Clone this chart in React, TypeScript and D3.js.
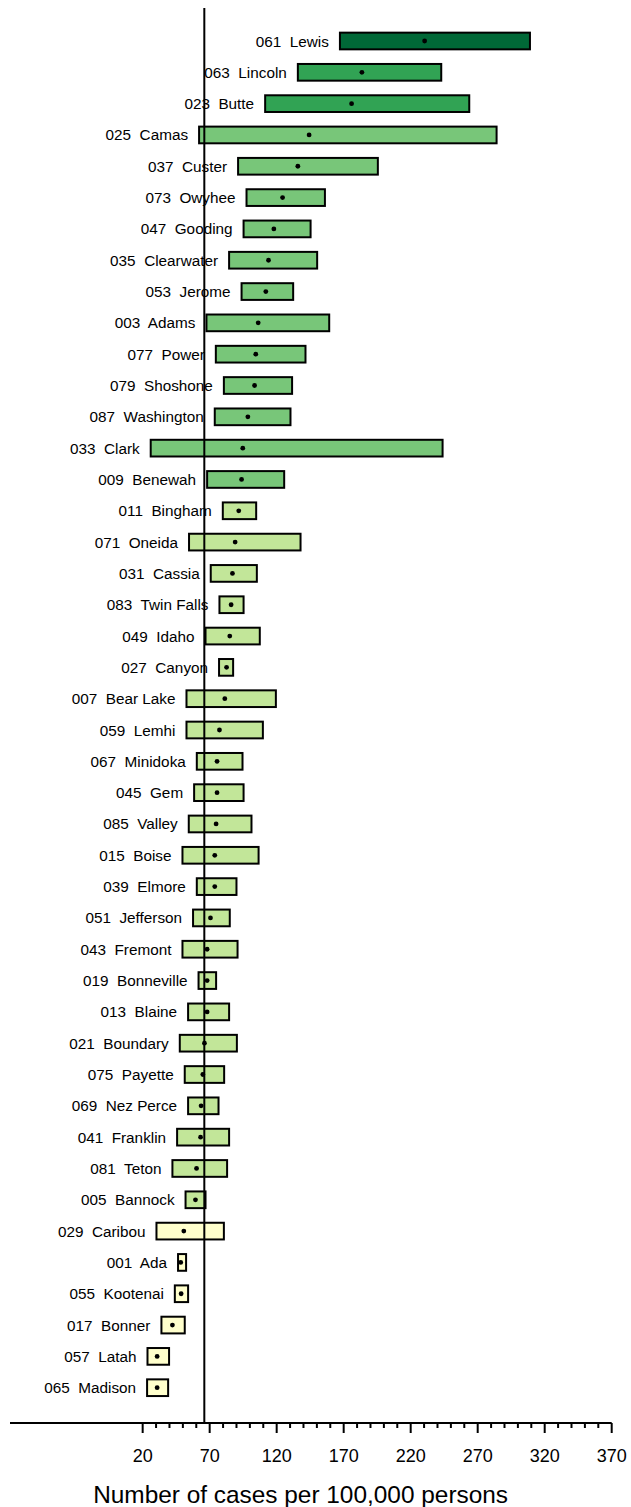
import React from "react";
import * as d3 from "d3";

const codes = ["061","063","023","025","037","073","047","035","053","003","077","079","087","033","009","011","071","031","083","049","027","007","059","067","045","085","015","039","051","043","019","013","021","075","069","041","081","005","029","001","055","017","057","065"];
const names = ["Lewis","Lincoln","Butte","Camas","Custer","Owyhee","Gooding","Clearwater","Jerome","Adams","Power","Shoshone","Washington","Clark","Benewah","Bingham","Oneida","Cassia","Twin Falls","Idaho","Canyon","Bear Lake","Lemhi","Minidoka","Gem","Valley","Boise","Elmore","Jefferson","Fremont","Bonneville","Blaine","Boundary","Payette","Nez Perce","Franklin","Teton","Bannock","Caribou","Ada","Kootenai","Bonner","Latah","Madison"];
const lows = [167.2,135.8,111.4,62.1,91.2,97.5,95.3,84.5,93.8,67.6,74.6,80.6,73.8,26.0,68.1,79.8,54.6,70.8,77.3,66.9,77.0,52.7,52.7,60.4,58.4,54.4,49.7,60.4,57.6,49.7,61.7,53.9,47.7,51.4,53.9,45.7,42.2,52.0,30.3,46.4,44.0,34.0,23.6,23.3];
const rates = [230.4,183.6,175.9,144.2,135.8,124.4,117.9,113.9,111.9,106.2,104.4,103.5,98.5,94.7,93.8,91.7,89.0,87.0,86.0,85.0,82.6,81.3,77.3,75.5,75.5,74.8,73.8,73.8,70.6,68.1,68.1,68.1,66.1,64.9,63.6,63.2,60.2,59.4,50.7,48.4,48.7,42.2,30.8,30.8];
const highs = [309.0,242.8,263.7,284.1,195.5,156.0,145.3,150.2,132.3,159.2,141.5,131.5,130.3,243.8,125.6,104.7,137.8,105.2,95.3,107.4,87.5,119.4,109.7,94.5,95.3,101.2,106.5,90.0,85.0,90.8,74.8,84.5,90.3,80.8,76.6,84.5,83.0,66.9,80.6,52.4,53.9,51.4,39.7,39.0];
const rateClass = [4,3,3,2,2,2,2,2,2,2,2,2,2,2,2,1,1,1,1,1,1,1,1,1,1,1,1,1,1,1,1,1,1,1,1,1,1,1,0,0,0,0,0,0];
const classColors = ["#ffffcc","#c2e699","#78c679","#31a354","#006837"];
const majorTicks = [20,70,120,170,220,270,320,370];
const referenceValue = 66;
const axisTitle = "Number of cases per 100,000 persons";

export default function App() {
  const W = 631, H = 1507;
  const x = d3.scaleLinear().domain([-79, 370]).range([10, 611.7]);
  const y = d3.scalePoint<string>().domain(names).range([41, 1387.7]);
  const axisY = 1423;
  const minorTicks = d3.range(20, 371, 10).filter(v => !majorTicks.includes(v));
  const font = "'Liberation Sans', Arial, sans-serif";
  const barH = 16.7;
  return (
    <svg width={W} height={H} style={{ position: "absolute", left: 0, top: 0, display: "block" }} fontFamily={font}>
      <rect width={W} height={H} fill="#fff" />
      {names.map((n, i) => {
        const cy = y(n) as number;
        const x0 = x(lows[i]);
        const x1 = x(highs[i]);
        return (
          <g key={n}>
            <rect x={x0} y={cy - barH / 2} width={x1 - x0} height={barH} fill={classColors[rateClass[i]]} stroke="#000" strokeWidth={2} />
          </g>
        );
      })}
      <line x1={x(referenceValue)} x2={x(referenceValue)} y1={8} y2={axisY} stroke="#000" strokeWidth={2} />
      {names.map((n, i) => {
        const cy = y(n) as number;
        return (
          <g key={"p" + n}>
            <circle cx={x(rates[i])} cy={cy} r={2.4} fill="#000" />
            <text x={x(lows[i]) - 11} y={cy + 5.5} textAnchor="end" fontSize={15.3} fill="#000" style={{ whiteSpace: "pre" }}>
              {codes[i] + "  " + n}
            </text>
          </g>
        );
      })}
      <line x1={10} x2={611.7} y1={axisY} y2={axisY} stroke="#000" strokeWidth={2} />
      {minorTicks.map(v => (
        <line key={"m" + v} x1={x(v)} x2={x(v)} y1={axisY} y2={axisY + 5} stroke="#000" strokeWidth={2} />
      ))}
      {majorTicks.map(v => (
        <g key={"t" + v}>
          <line x1={x(v)} x2={x(v)} y1={axisY} y2={axisY + 10} stroke="#000" strokeWidth={2} />
          <text x={x(v)} y={1461.5} textAnchor="middle" fontSize={18} fill="#000">{v}</text>
        </g>
      ))}
      <text x={300.6} y={1503} textAnchor="middle" fontSize={24.4} fill="#000">{axisTitle}</text>
    </svg>
  );
}
